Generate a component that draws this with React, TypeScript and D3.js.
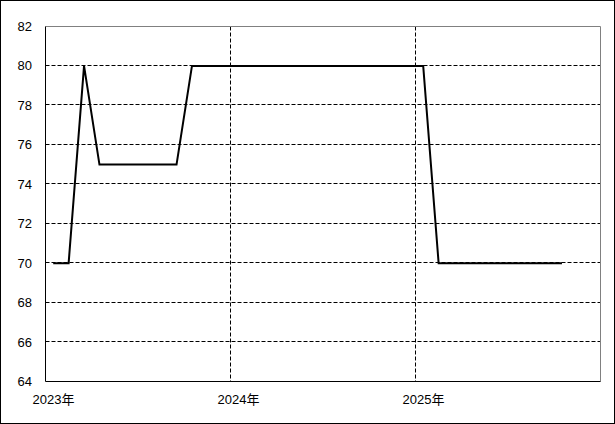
import React, { useEffect } from "react";
import * as d3 from "d3";

const years = ["2023", "2024", "2025"];
const yearSuffix = "年";
const values2023 = [70, 70, 80, 75, 75, 75, 75, 75, 75, 80, 80, 80];
const values2024 = [80, 80, 80, 80, 80, 80, 80, 80, 80, 80, 80, 80];
const values2025 = [80, 70, 70, 70, 70, 70, 70, 70, 70, 70];
const yTicks = [64, 66, 68, 70, 72, 74, 76, 78, 80, 82];

const W = 615;
const H = 424;
const FONT = "'Liberation Sans', Arial, 'Noto Sans CJK JP', sans-serif";

export default function App() {
  useEffect(() => {
    document.body.style.margin = "0";
  }, []);

  const values = [...values2023, ...values2024, ...values2025];
  const x = d3.scaleLinear().domain([0, 36]).range([45.5, 600.5]);
  const y = d3.scaleLinear().domain([64, 82]).range([381.5, 26.5]);

  const line = d3
    .line<number>()
    .x((_, i) => x(i + 0.5))
    .y((d) => y(d));

  const yearIdx = years.map((_, i) => i * 12);

  return (
    <svg
      width={W}
      height={H}
      style={{ position: "absolute", left: 0, top: 0, display: "block", background: "#fff" }}
    >
      <rect x={0.5} y={0.5} width={614} height={423} fill="#fff" stroke="#000" strokeWidth={1} />
      {/* horizontal gridlines */}
      {yTicks
        .filter((t) => t !== 64 && t !== 82)
        .map((t) => (
          <line
            key={"h" + t}
            x1={x(0)}
            x2={x(36)}
            y1={Math.round(y(t)) - 0.5}
            y2={Math.round(y(t)) - 0.5}
            stroke="#000"
            strokeWidth={1}
            strokeDasharray="4,2"
          />
        ))}
      {/* vertical gridlines */}
      {yearIdx
        .filter((i) => i !== 0)
        .map((i) => (
          <line
            key={"v" + i}
            x1={x(i)}
            x2={x(i)}
            y1={y(82)}
            y2={y(64)}
            stroke="#000"
            strokeWidth={1}
            strokeDasharray="4,2"
          />
        ))}
      {/* plot frame top/right gray */}
      <line x1={x(0)} x2={x(36)} y1={y(82)} y2={y(82)} stroke="#808080" strokeWidth={1} />
      <line x1={x(36)} x2={x(36)} y1={y(82)} y2={y(64)} stroke="#808080" strokeWidth={1} />
      {/* axes */}
      <line x1={x(0)} x2={x(0)} y1={y(82)} y2={y(64)} stroke="#000" strokeWidth={1} />
      <line x1={x(0)} x2={x(36)} y1={y(64)} y2={y(64)} stroke="#000" strokeWidth={1} />
      {/* data line */}
      <path d={line(values) || ""} fill="none" stroke="#000" strokeWidth={2} strokeLinejoin="miter" />
      {/* y labels */}
      {yTicks.map((t) => (
        <text
          key={"yl" + t}
          x={32}
          y={y(t)}
          dy="0.35em"
          textAnchor="end"
          fontFamily={FONT}
          fontSize={13}
          fill="#000"
        >
          {t}
        </text>
      ))}
      {/* x labels */}
      {years.map((yr, i) => (
        <text
          key={"xl" + yr}
          x={x(yearIdx[i]) - 13}
          y={404}
          textAnchor="start"
          fontFamily={FONT}
          fontSize={13}
          fill="#000"
        >
          {yr + yearSuffix}
        </text>
      ))}
    </svg>
  );
}
